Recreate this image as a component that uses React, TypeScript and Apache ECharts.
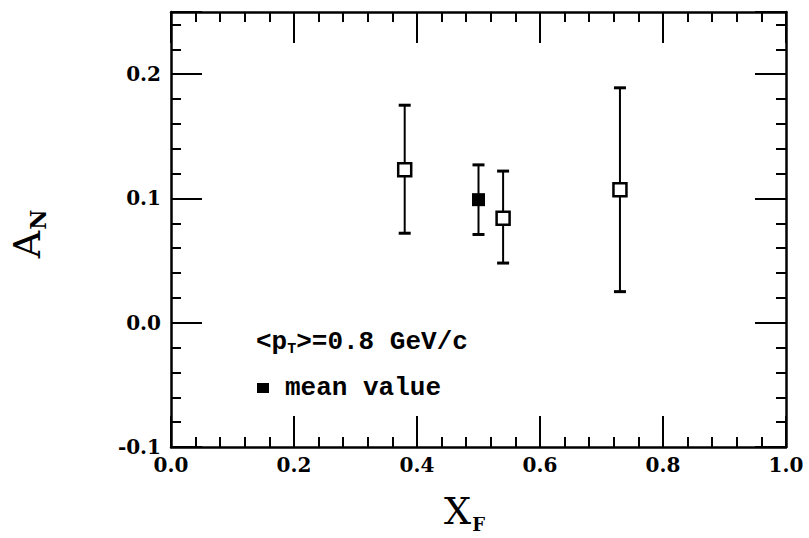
import React, { useEffect, useRef } from "react";
import * as echarts from "echarts";

// Open squares: individual measurements
const pointX = [0.38, 0.54, 0.73];
const pointY = [0.123, 0.084, 0.107];
const pointLow = [0.072, 0.048, 0.025];
const pointHigh = [0.175, 0.122, 0.189];

// Filled square: mean value
const meanX = [0.5];
const meanY = [0.099];
const meanLow = [0.071];
const meanHigh = [0.127];

const xTickLabels = ["0.0", "0.2", "0.4", "0.6", "0.8", "1.0"];
const yTickLabels = ["-0.1", "0.0", "0.1", "0.2"];

const LABEL_FONT = "DejaVu Serif";
const MONO = "Liberation Mono";

function xFmt(v: number) {
  const i = Math.round(v / 0.2);
  return Math.abs(v - i * 0.2) < 1e-6 && xTickLabels[i] !== undefined ? xTickLabels[i] : "";
}
function yFmt(v: number) {
  const i = Math.round((v + 0.1) / 0.1);
  return Math.abs(v - (i * 0.1 - 0.1)) < 1e-6 && yTickLabels[i] !== undefined ? yTickLabels[i] : "";
}

function xAxisDef(position: string, interval: number, len: number, showLine: boolean, showLabel: boolean, extra: any = {}) {
  return {
    type: "value",
    position,
    min: 0,
    max: 1,
    interval,
    splitLine: { show: false },
    axisLine: { show: showLine, onZero: false, lineStyle: { color: "#000", width: 2.5 } },
    axisTick: { show: true, inside: true, length: len, lineStyle: { color: "#000", width: 2 } },
    axisLabel: {
      show: showLabel,
      formatter: xFmt,
      color: "#000",
      fontFamily: LABEL_FONT,
      fontWeight: "bold",
      fontSize: 20,
      margin: 8,
      showMinLabel: true,
      showMaxLabel: true,
      hideOverlap: false,
    },
    ...extra,
  };
}

function yAxisDef(position: string, interval: number, len: number, showLine: boolean, showLabel: boolean, extra: any = {}) {
  return {
    type: "value",
    position,
    min: -0.1,
    max: 0.25,
    interval,
    splitLine: { show: false },
    axisLine: { show: showLine, onZero: false, lineStyle: { color: "#000", width: 2.5 } },
    axisTick: { show: true, inside: true, length: len, lineStyle: { color: "#000", width: 2 } },
    axisLabel: {
      show: showLabel,
      formatter: yFmt,
      color: "#000",
      fontFamily: LABEL_FONT,
      fontWeight: "bold",
      fontSize: 20,
      margin: 10,
      showMinLabel: true,
      showMaxLabel: true,
      hideOverlap: false,
    },
    ...extra,
  };
}

export default function App() {
  const ref = useRef<HTMLDivElement>(null);

  useEffect(() => {
    if (!ref.current) return;
    document.body.style.margin = "0";
    document.body.style.overflow = "hidden";
    const chart = echarts.init(ref.current, null, { renderer: "svg" });

    const errData = pointX
      .map((x, i) => [x, pointLow[i], pointHigh[i]])
      .concat(meanX.map((x, i) => [x, meanLow[i], meanHigh[i]]));

    const option: any = {
      animation: false,
      backgroundColor: "#fff",
      grid: {
        left: 171,
        top: 12,
        right: 23,
        bottom: 91,
        containLabel: false,
        outerBoundsMode: "none",
      },
      xAxis: [
        xAxisDef("bottom", 0.2, 31, true, true, {
          name: "{m|X}{s|F}",
          nameLocation: "middle",
          nameGap: 42,
          nameTextStyle: {
            padding: [0, 28, 0, 0],
            rich: {
              m: { fontFamily: LABEL_FONT, fontSize: 38, color: "#000", lineHeight: 44, verticalAlign: "middle" },
              s: { fontFamily: LABEL_FONT, fontSize: 18, fontWeight: "bold", color: "#000", lineHeight: 44, verticalAlign: "bottom", padding: [0, 0, 0, 1] },
            },
          },
        }),
        xAxisDef("bottom", 0.04, 10, false, false),
        xAxisDef("top", 0.2, 31, true, false),
        xAxisDef("top", 0.04, 10, false, false),
      ],
      yAxis: [
        yAxisDef("left", 0.1, 31, true, true, {
          name: "{m|A}{s|N}",
          nameLocation: "middle",
          nameRotate: 90,
          nameGap: 122,
          nameTextStyle: {
            padding: [0, 9, 0, 0],
            rich: {
              m: { fontFamily: LABEL_FONT, fontSize: 38, color: "#000", lineHeight: 44, verticalAlign: "middle" },
              s: { fontFamily: LABEL_FONT, fontSize: 22, fontWeight: "bold", color: "#000", lineHeight: 44, verticalAlign: "bottom", padding: [0, 0, 0, 1] },
            },
          },
        }),
        yAxisDef("left", 0.02, 10, false, false),
        yAxisDef("right", 0.1, 31, true, false),
        yAxisDef("right", 0.02, 10, false, false),
      ],
      legend: {
        show: true,
        left: 257,
        top: 375,
        padding: 0,
        itemWidth: 12,
        itemHeight: 10,
        icon: "rect",
        data: [{ name: "mean value", icon: "rect", itemStyle: { color: "#000", borderWidth: 0 } }],
        textStyle: {
          fontFamily: MONO,
          fontWeight: "bold",
          fontSize: 26,
          color: "#000",
          padding: [0, 0, 0, 11],
        },
        selectedMode: false,
      },
      graphic: [
        {
          type: "text",
          left: 256,
          top: 329,
          style: {
            text: "{m|<p}{s|T}{m|>=0.8 GeV/c}",
            rich: {
              m: { fontFamily: MONO, fontWeight: "bold", fontSize: 26, fill: "#000", lineHeight: 30, verticalAlign: "middle" },
              s: { fontFamily: MONO, fontWeight: "bold", fontSize: 15, fill: "#000", lineHeight: 30, verticalAlign: "bottom" },
            },
          },
        },
      ],
      series: [
        {
          type: "custom",
          name: "errors",
          xAxisIndex: 0,
          yAxisIndex: 0,
          data: errData,
          encode: { x: 0, y: [1, 2] },
          z: 1,
          renderItem: (params: any, api: any) => {
            const x = api.value(0);
            const lo = api.coord([x, api.value(1)]);
            const hi = api.coord([x, api.value(2)]);
            const w = 6;
            const style = { stroke: "#000", lineWidth: 2, fill: "none" };
            return {
              type: "group",
              children: [
                { type: "line", shape: { x1: lo[0], y1: lo[1], x2: hi[0], y2: hi[1] }, style },
                { type: "line", shape: { x1: hi[0] - w, y1: hi[1], x2: hi[0] + w, y2: hi[1] }, style: { ...style, lineWidth: 3 } },
                { type: "line", shape: { x1: lo[0] - w, y1: lo[1], x2: lo[0] + w, y2: lo[1] }, style: { ...style, lineWidth: 3 } },
              ],
            };
          },
        },
        {
          type: "scatter",
          name: "measurements",
          xAxisIndex: 0,
          yAxisIndex: 0,
          symbol: "rect",
          symbolSize: 13,
          z: 3,
          itemStyle: { color: "#fff", borderColor: "#000", borderWidth: 2.5, opacity: 1 },
          data: pointX.map((x, i) => [x, pointY[i]]),
        },
        {
          type: "scatter",
          name: "mean value",
          xAxisIndex: 0,
          yAxisIndex: 0,
          symbol: "rect",
          symbolSize: 13,
          z: 3,
          itemStyle: { color: "#000", opacity: 1 },
          data: meanX.map((x, i) => [x, meanY[i]]),
        },
      ],
    };

    chart.setOption(option);
    return () => chart.dispose();
  }, []);

  return <div ref={ref} style={{ width: 809, height: 538 }} />;
}
